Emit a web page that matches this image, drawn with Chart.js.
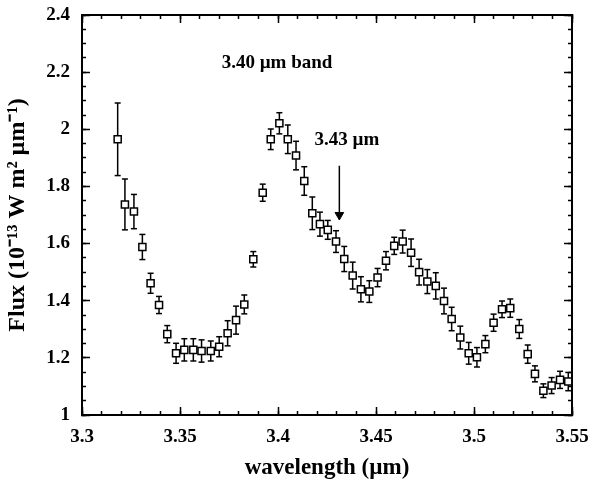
<!DOCTYPE html>
<html>
<head>
<meta charset="utf-8">
<script src="https://cdn.jsdelivr.net/npm/chart.js@4/dist/chart.umd.min.js"></script>
<style>
  body { margin: 0; background: #fff; }
  #wrap { width: 589px; height: 480px; }
</style>
</head>
<body>
<div id="wrap"><canvas id="myChart"></canvas></div>
<script>
// data
const wavelength = [
  3.3182, 3.3219, 3.3265, 3.3308, 3.3350, 3.3393, 3.3435, 3.3480, 3.3522, 3.3568,
  3.3610, 3.3657, 3.3700, 3.3743, 3.3786, 3.3828, 3.3874, 3.3922, 3.3963, 3.4007,
  3.4050, 3.4092, 3.4134, 3.4175, 3.4214, 3.4254, 3.4296, 3.4338, 3.4381, 3.4423,
  3.4466, 3.4508, 3.4551, 3.4593, 3.4636, 3.4679, 3.4720, 3.4762, 3.4805, 3.4847,
  3.4886, 3.4930, 3.4973, 3.5015, 3.5058, 3.5100, 3.5143, 3.5185, 3.5231, 3.5274,
  3.5311, 3.5354, 3.5396, 3.5439, 3.5481
];
const flux = [
  1.965, 1.737, 1.712, 1.588, 1.461, 1.385, 1.283, 1.216, 1.228, 1.228,
  1.224, 1.224, 1.239, 1.286, 1.332, 1.387, 1.545, 1.778, 1.965, 2.021,
  1.965, 1.908, 1.819, 1.706, 1.668, 1.648, 1.607, 1.546, 1.488, 1.440,
  1.432, 1.481, 1.540, 1.592, 1.607, 1.568, 1.500, 1.467, 1.452, 1.399,
  1.336, 1.271, 1.216, 1.202, 1.248, 1.323, 1.370, 1.374, 1.301, 1.213,
  1.144, 1.085, 1.103, 1.123, 1.117
];
const fluxErr = [
  0.127, 0.089, 0.060, 0.044, 0.035, 0.030, 0.030, 0.035, 0.039, 0.039,
  0.039, 0.035, 0.035, 0.044, 0.049, 0.033, 0.027, 0.030, 0.036, 0.037,
  0.050, 0.050, 0.050, 0.057, 0.042, 0.033, 0.038, 0.044, 0.047, 0.044,
  0.038, 0.032, 0.032, 0.030, 0.040, 0.048, 0.045, 0.042, 0.046, 0.045,
  0.041, 0.040, 0.038, 0.034, 0.030, 0.030, 0.029, 0.032, 0.033, 0.032,
  0.028, 0.024, 0.028, 0.030, 0.032
];

const xTickLabels = ["3.3", "3.35", "3.4", "3.45", "3.5", "3.55"];
const yTickLabels = ["1", "1.2", "1.4", "1.6", "1.8", "2", "2.2", "2.4"];

// annotations (data coordinates)
const bandLabel = { text: "3.40 µm band", x: 3.3995, y: 2.232 };
const featureLabel = { text: "3.43 µm", x: 3.4352, y: 1.9625 };
const arrowX = 3.4313;
const arrowFrom = 1.872;
const arrowTo = 1.70;

const serif = '"Liberation Serif", "Times New Roman", serif';

// error bars: lo, hi, gap
const errData = [];
wavelength.forEach((x, i) => {
  errData.push({ x: x, y: flux[i] - fluxErr[i] });
  errData.push({ x: x, y: flux[i] + fluxErr[i] });
  errData.push({ x: x, y: null });
});
const pointData = wavelength.map((x, i) => ({ x: x, y: flux[i] }));

// the two text labels
const annotations = {
  id: "annotations",
  afterDraw(chart) {
    const ctx = chart.ctx;
    const x = chart.scales.x;
    const y = chart.scales.y;
    ctx.save();
    ctx.fillStyle = "#000";
    ctx.font = "bold 19px " + serif;
    ctx.textAlign = "center";
    ctx.textBaseline = "middle";
    [bandLabel, featureLabel].forEach(lb => {
      ctx.fillText(lb.text, x.getPixelForValue(lb.x), y.getPixelForValue(lb.y));
    });
    ctx.restore();
  }
};

// axis that only draws inward tick marks (and optionally the frame line)
function tickAxis(position, min, max, step, len, weight, border) {
  const horizontal = position === "top" || position === "bottom";
  return {
    type: "linear",
    position: position,
    axis: horizontal ? "x" : "y",
    min: min,
    max: max,
    weight: weight,
    grid: {
      display: true,
      drawOnChartArea: false,
      drawTicks: true,
      tickLength: -len,
      tickWidth: 1.5,
      tickColor: "#000",
    },
    border: { display: border, color: "#000", width: 2 },
    ticks: { display: false, stepSize: step, autoSkip: false },
    afterFit: (s) => {
      if (horizontal) s.height = 0; else s.width = 0;
      s.paddingLeft = 0; s.paddingRight = 0; s.paddingTop = 0; s.paddingBottom = 0;
    },
  };
}

const config = {
  type: "scatter",
  data: {
    datasets: [
      {
        label: "flux",
        data: pointData,
        pointStyle: "rect",
        pointRadius: 5,
        backgroundColor: "#fff",
        borderColor: "#000",
        borderWidth: 1.5,
        order: 0,
      },
      {
        type: "line",
        label: "error",
        data: errData,
        borderColor: "#000",
        borderWidth: 1.5,
        pointStyle: "line",
        pointRadius: 3,
        pointBorderWidth: 1.5,
        pointBorderColor: "#000",
        spanGaps: false,
        fill: false,
        order: 1,
      },
      {
        type: "line",
        label: "arrow",
        data: [{ x: arrowX, y: arrowFrom }, { x: arrowX, y: arrowTo }],
        borderColor: "#000",
        borderWidth: 1.5,
        pointStyle: "triangle",
        pointRadius: [0, 5],
        pointRotation: 180,
        backgroundColor: "#000",
        pointBackgroundColor: "#000",
        pointBorderWidth: 1,
        fill: false,
        order: 2,
      },
    ],
  },
  options: {
    responsive: true,
    maintainAspectRatio: false,
    animation: false,
    events: [],
    layout: { padding: { top: 15, right: 17, left: 0, bottom: 0 } },
    plugins: {
      legend: { display: false },
      tooltip: { enabled: false },
    },
    scales: {
      x: {
        type: "linear",
        position: "bottom",
        min: 3.3,
        max: 3.55,
        weight: 1,
        offset: false,
        grid: {
          display: true,
          drawOnChartArea: false,
          drawTicks: true,
          tickLength: -8,
          tickWidth: 1.5,
          tickColor: "#000",
        },
        border: { display: true, color: "#000", width: 2 },
        ticks: {
          stepSize: 0.05,
          padding: 19,
          color: "#000",
          maxRotation: 0,
          autoSkip: false,
          font: { family: serif, size: 19, weight: "bold" },
          callback: (v, i) => xTickLabels[i],
        },
        title: {
          display: true,
          text: "wavelength (µm)",
          color: "#000",
          font: { family: serif, size: 23, weight: "bold", lineHeight: 1 },
          padding: { top: 0, bottom: 0 },
        },
        afterFit: (s) => { s.height = 65; s.paddingLeft = 0; s.paddingRight = 0; },
      },
      y: {
        type: "linear",
        position: "left",
        min: 1,
        max: 2.4,
        weight: 1,
        grid: {
          display: true,
          drawOnChartArea: false,
          drawTicks: true,
          tickLength: -8,
          tickWidth: 1.5,
          tickColor: "#000",
        },
        border: { display: true, color: "#000", width: 2 },
        ticks: {
          stepSize: 0.2,
          padding: 20,
          color: "#000",
          autoSkip: false,
          font: { family: serif, size: 19, weight: "bold" },
          callback: (v, i) => yTickLabels[i],
        },
        title: {
          display: true,
          text: "Flux (10⁻¹³ W m² µm⁻¹)",
          color: "#000",
          font: { family: serif, size: 24, weight: "bold", lineHeight: 1 },
          padding: { top: 6, bottom: 0 },
        },
        afterFit: (s) => { s.width = 82; s.paddingTop = 0; s.paddingBottom = 0; },
      },
      xMinor: tickAxis("bottom", 3.3, 3.55, 0.01, 4, 0, false),
      xTop: tickAxis("top", 3.3, 3.55, 0.05, 8, 1, true),
      xTopMinor: tickAxis("top", 3.3, 3.55, 0.01, 4, 0, false),
      yMinor: tickAxis("left", 1, 2.4, 0.05, 4, 0, false),
      yRight: tickAxis("right", 1, 2.4, 0.2, 8, 1, true),
      yRightMinor: tickAxis("right", 1, 2.4, 0.05, 4, 0, false),
    },
  },
  plugins: [annotations],
};

const chartElement = document.getElementById("myChart");
if (chartElement) {
  const myChart = new Chart(chartElement, config);
}
</script>
</body>
</html>
